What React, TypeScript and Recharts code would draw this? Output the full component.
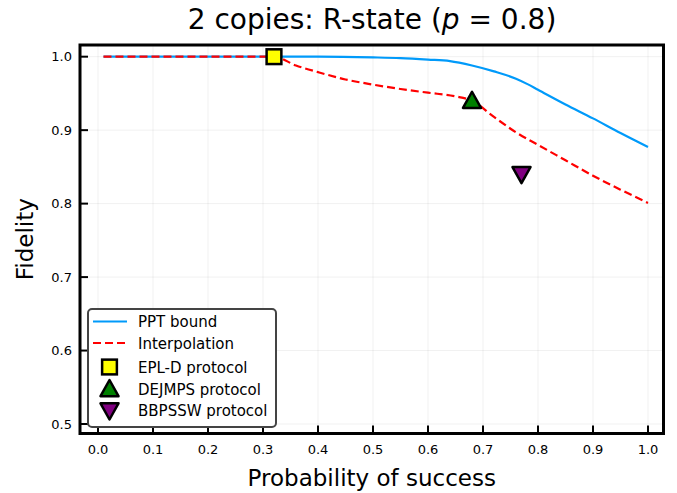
import React from 'react';
import { ComposedChart, Line, Scatter, XAxis, YAxis, CartesianGrid, ReferenceArea } from 'recharts';

const pptX = [0.01, 0.1, 0.2, 0.32, 0.4, 0.5, 0.55, 0.6, 0.64, 0.68, 0.72, 0.76, 0.78, 0.8, 0.85, 0.9, 0.95, 1.0];
const pptY = [1.0, 1.0, 1.0, 1.0, 1.0, 0.999, 0.998, 0.996, 0.994, 0.988, 0.98, 0.97, 0.963, 0.955, 0.935, 0.916, 0.896, 0.877];

const interpX = [0.01, 0.32, 0.36, 0.4, 0.45, 0.5, 0.55, 0.6, 0.65, 0.68, 0.72, 0.76, 0.8, 0.85, 0.9, 0.95, 1.0];
const interpY = [1.0, 1.0, 0.988, 0.979, 0.969, 0.962, 0.956, 0.951, 0.946, 0.94, 0.918, 0.897, 0.88, 0.859, 0.838, 0.819, 0.801];

const protocolNames = ['EPL-D protocol', 'DEJMPS protocol', 'BBPSSW protocol'];
const protocolX = [0.32, 0.68, 0.77];
const protocolY = [1.0, 0.94, 0.84];
const protocolColors = ['#ffff00', '#008000', '#800080'];
const protocolShapes = ['square', 'triangle', 'triangleDown'];

const xTicks = [0.0, 0.1, 0.2, 0.3, 0.4, 0.5, 0.6, 0.7, 0.8, 0.9, 1.0];
const yTicks = [0.5, 0.6, 0.7, 0.8, 0.9, 1.0];

const xDomain: [number, number] = [-0.0327, 1.0282];
const yDomain: [number, number] = [0.4871, 1.0159];

const FONT = '"DejaVu Sans", sans-serif';
const BLUE = '#009afa';
const RED = '#ff0000';

const pptData = pptX.map((x, i) => ({ x, y: pptY[i] }));
const interpData = interpX.map((x, i) => ({ x, y: interpY[i] }));
const protocolData = protocolNames.map((name, i) => [{ x: protocolX[i], y: protocolY[i], name }]);

function Marker({ cx, cy, shape, fill, size = 16 }: any) {
  const h = size / 2;
  if (shape === 'square') {
    const s = size * 0.82;
    return <rect x={cx - s / 2} y={cy - s / 2} width={s} height={s} fill={fill} stroke="#000" strokeWidth={2.5} />;
  }
  if (shape === 'triangle') {
    return (
      <polygon
        points={`${cx},${cy - h} ${cx - h},${cy + h * 0.8} ${cx + h},${cy + h * 0.8}`}
        fill={fill}
        stroke="#000"
        strokeWidth={2.5}
        strokeLinejoin="round"
      />
    );
  }
  return (
    <polygon
      points={`${cx},${cy + h} ${cx - h},${cy - h * 0.8} ${cx + h},${cy - h * 0.8}`}
      fill={fill}
      stroke="#000"
      strokeWidth={2.5}
      strokeLinejoin="round"
    />
  );
}

const XTick = (props: any) => {
  const { x, y, payload } = props;
  return (
    <g>
      <line x1={x} x2={x} y1={y} y2={y - 8} stroke="#000" strokeWidth={2} />
      <text x={x} y={y + 20} textAnchor="middle" fontFamily={FONT} fontSize={13} fill="#000">
        {Number(payload.value).toFixed(1)}
      </text>
    </g>
  );
};

const YTick = (props: any) => {
  const { x, y, payload } = props;
  return (
    <g>
      <line x1={x} x2={x + 8} y1={y} y2={y} stroke="#000" strokeWidth={2} />
      <text x={x - 8} y={y + 4.5} textAnchor="end" fontFamily={FONT} fontSize={13} fill="#000">
        {Number(payload.value).toFixed(1)}
      </text>
    </g>
  );
};

const rowY = [13.5, 35, 59, 81, 102.5];

const LegendBox = () => (
  <svg width={190} height={120} style={{ position: 'absolute', left: 87, top: 308 }}>
    <rect x={1} y={1} width={188} height={118} rx={4} ry={4} fill="#fff" stroke="#444" strokeWidth={2} />
    <line x1={6} x2={40} y1={rowY[0]} y2={rowY[0]} stroke={BLUE} strokeWidth={2.2} />
    <text x={51} y={rowY[0] + 5.5} fontFamily={FONT} fontSize={15} fill="#000">PPT bound</text>
    <line x1={6} x2={40} y1={rowY[1]} y2={rowY[1]} stroke={RED} strokeWidth={2.2} strokeDasharray="8 4" />
    <text x={51} y={rowY[1] + 5.5} fontFamily={FONT} fontSize={15} fill="#000">Interpolation</text>
    {protocolNames.map((name, i) => (
      <g key={name}>
        <Marker cx={22.5} cy={rowY[i + 2]} shape={protocolShapes[i]} fill={protocolColors[i]} size={18} />
        <text x={51} y={rowY[i + 2] + 5.5} fontFamily={FONT} fontSize={15} fill="#000">{name}</text>
      </g>
    ))}
  </svg>
);

export default function App() {
  return (
    <div style={{ position: 'absolute', left: 0, top: 0, width: 677, height: 493, background: '#fff' }}>
      <div
        style={{
          position: 'absolute',
          left: 80,
          width: 584,
          top: 2,
          textAlign: 'center',
          fontFamily: FONT,
          fontSize: 28,
          lineHeight: '36px',
          color: '#000',
          whiteSpace: 'nowrap',
        }}
      >
        2 copies: R-state (<i>p</i> = 0.8)
      </div>
      <ComposedChart width={677} height={493} margin={{ top: 45, right: 13.5, bottom: 0, left: 0 }}>
        <CartesianGrid stroke="#000" strokeOpacity={0.06} strokeWidth={1} />
        <XAxis
          type="number"
          dataKey="x"
          domain={xDomain}
          ticks={xTicks}
          allowDataOverflow
          height={59.5}
          tickSize={0}
          tickMargin={0}
          tickLine={false}
          axisLine={false}
          tick={<XTick />}
          interval={0}
          label={{ value: 'Probability of success', position: 'insideBottom', offset: 7, fontFamily: FONT, fontSize: 23, fill: '#000' }}
        />
        <YAxis
          type="number"
          dataKey="y"
          domain={yDomain}
          ticks={yTicks}
          allowDataOverflow
          width={80}
          tickSize={0}
          tickMargin={0}
          tickLine={false}
          axisLine={false}
          tick={<YTick />}
          interval={0}
          label={{ value: 'Fidelity', angle: -90, position: 'insideLeft', offset: 25, fontFamily: FONT, fontSize: 23, fill: '#000', style: { textAnchor: 'middle' } }}
        />
        <Line data={pptData} dataKey="y" type="monotone" stroke={BLUE} strokeWidth={2.2} dot={false} isAnimationActive={false} />
        <Line data={interpData} dataKey="y" type="monotone" stroke={RED} strokeWidth={2.2} strokeDasharray="8 4" dot={false} isAnimationActive={false} />
        {protocolData.map((d, i) => (
          <Scatter
            key={protocolNames[i]}
            data={d}
            dataKey="y"
            isAnimationActive={false}
            shape={(p: any) => <Marker cx={p.cx} cy={p.cy} shape={protocolShapes[i]} fill={protocolColors[i]} size={18} />}
          />
        ))}
        <ReferenceArea x1={xDomain[0]} x2={xDomain[1]} y1={yDomain[0]} y2={yDomain[1]} fill="none" fillOpacity={0} stroke="#000" strokeWidth={3} ifOverflow="visible" />
      </ComposedChart>
      <LegendBox />
    </div>
  );
}
